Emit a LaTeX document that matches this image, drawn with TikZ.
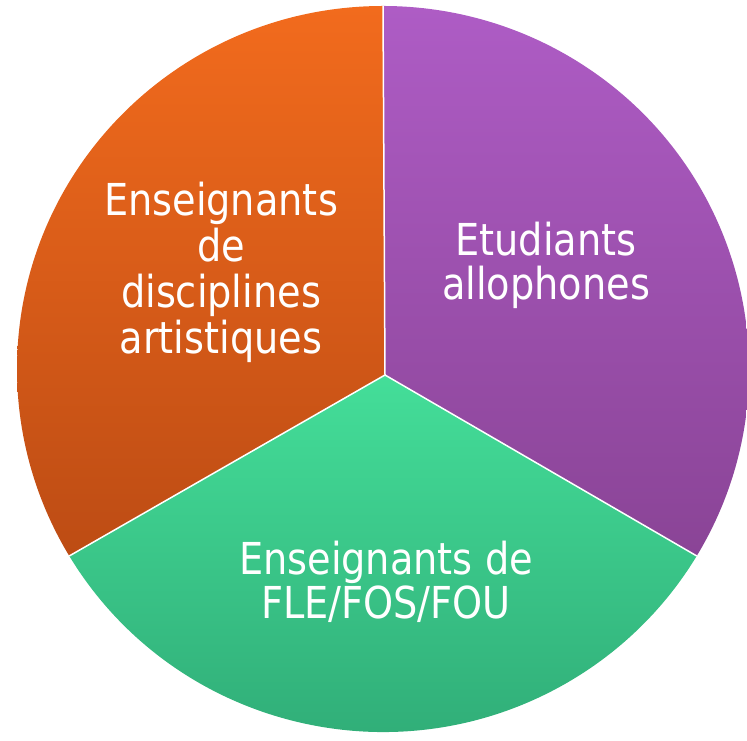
\documentclass[tikz,border=0pt]{standalone}
\usepackage{fontspec}
\setmainfont{DejaVu Sans}[FakeStretch=0.87]
\usepackage{xcolor}
\usetikzlibrary{calc}

\definecolor{orangetop}{HTML}{F26B1D}
\definecolor{orangebot}{HTML}{BD4C14}
\definecolor{purpletop}{HTML}{AE5CC5}
\definecolor{purplebot}{HTML}{8A4496}
\definecolor{greentop}{HTML}{44DE99}
\definecolor{greenbot}{HTML}{2EA874}

\begin{document}
\begin{tikzpicture}[x=1pt,y=1pt,
    sectorlabel/.style={text=white, align=center, font=\fontsize{44}{44}\selectfont},
    gap/.style={white, line width=1.5pt}]
                \useasboundingbox (0,0) rectangle (747,741);
                \coordinate (O) at (383,372);
                \coordinate (C) at (385,366);
                \coordinate (T) at ($(O)+(0,363)$);
                \coordinate (L) at ($(O)+({366*cos(211)},{363*sin(211)})$);
                \coordinate (R) at ($(O)+({366*cos(329)},{363*sin(329)})$);
                % the three sectors
                \shade[top color=orangetop, bottom color=orangebot] (C) -- (T) arc[start angle=90, end angle=211, x radius=366, y radius=363] -- cycle;
                \shade[top color=greentop, bottom color=greenbot] (C) -- (L) arc[start angle=211, end angle=329, x radius=366, y radius=363] -- cycle;
                \shade[top color=purpletop, bottom color=purplebot] (C) -- (R) arc[start angle=329, end angle=450, x radius=366, y radius=363] -- cycle;
                \draw[gap] (C) -- (T);
                \draw[gap] (C) -- (L);
                \draw[gap] (C) -- (R);
                \node[sectorlabel, font=\fontsize{44}{46}\selectfont] (arts) at (221,469) {Enseignants\\de\\disciplines\\artistiques};
                \node[sectorlabel] (etud) at (546,476) {Etudiants\\allophones};
                \node[sectorlabel] (fle) at (386,159) {Enseignants de\\FLE/FOS/FOU};
            \end{tikzpicture}
\end{document}
